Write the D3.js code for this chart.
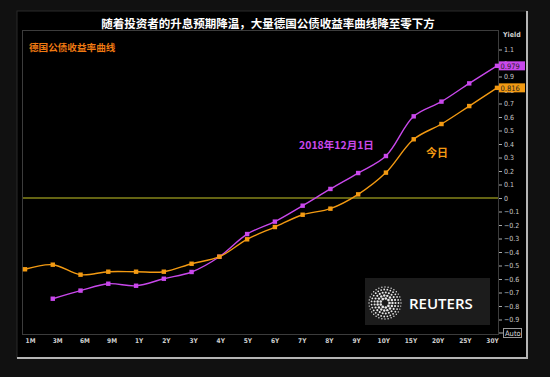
<!DOCTYPE html>
<html>
<head>
<meta charset="utf-8">
<script src="https://cdn.jsdelivr.net/npm/d3@7"></script>
<style>
    body { margin: 0; background: #111; }
</style>
</head>
<body>
<script>
// tenors on the x axis
const tenors = ["1M", "3M", "6M", "9M", "1Y", "2Y", "3Y", "4Y", "5Y", "6Y", "7Y", "8Y", "9Y", "10Y", "15Y", "20Y", "25Y", "30Y"];
// today's curve
const today = [-0.528, -0.494, -0.568, -0.546, -0.546, -0.546, -0.487, -0.435, -0.306, -0.215, -0.124, -0.079, 0.027, 0.188, 0.435, 0.548, 0.681, 0.816];
// curve on 2018-12-01 (no 1M point)
const dec1 = [null, -0.746, -0.686, -0.635, -0.650, -0.598, -0.548, -0.435, -0.267, -0.175, -0.057, 0.067, 0.185, 0.311, 0.605, 0.714, 0.849, 0.979];
const yTicks = [1.1, 1, 0.9, 0.8, 0.7, 0.6, 0.5, 0.4, 0.3, 0.2, 0.1, 0, -0.1, -0.2, -0.3, -0.4, -0.5, -0.6, -0.7, -0.8, -0.9];

const title = "随着投资者的升息预期降温，大量德国公债收益率曲线降至零下方";
const subtitle = "德国公债收益率曲线";

window.onload = function () {
    const w = 550, h = 377;
    const orange = "#f39a12", magenta = "#c948ec";
    const cjk = "'Noto Sans CJK SC', sans-serif";
    const latin = "'DejaVu Sans Condensed', 'Liberation Sans', sans-serif";

    const svg = d3.select("body").append("svg")
        .attr("width", w)
        .attr("height", h);

    svg.append("rect").attr("width", w).attr("height", h).attr("fill", "#111");

    // panel
    svg.append("rect")
        .attr("x", 17).attr("y", 11).attr("width", 510).attr("height", 347)
        .attr("fill", "#000").attr("stroke", "#2a2a2a");
    svg.append("path")
        .attr("d", "M527,11V358H17")
        .attr("fill", "none").attr("stroke", "#b5b5b5").attr("stroke-width", 2);

    // plot frame
    svg.append("rect")
        .attr("x", 22.5).attr("y", 30.5).attr("width", 476).attr("height", 304)
        .attr("fill", "none").attr("stroke", "#3c3c3c");

    svg.append("text")
        .attr("x", 268).attr("y", 28)
        .attr("text-anchor", "middle")
        .attr("font-family", cjk).attr("font-weight", "bold").attr("font-size", 11.5)
        .attr("fill", "#fff")
        .text(title);

    svg.append("text")
        .attr("x", 29).attr("y", 51)
        .attr("font-family", cjk).attr("font-weight", "bold").attr("font-size", 9.6)
        .attr("fill", "#f07a12")
        .text(subtitle);

    const x = d3.scalePoint().domain(tenors).range([25, 497]);
    const xLab = d3.scalePoint().domain(tenors).range([30, 492]);
    const y = d3.scaleLinear().domain([-0.9, 1.1]).range([319.5, 49.5]);

    // zero line
    svg.append("line")
        .attr("x1", 23).attr("x2", 498)
        .attr("y1", y(0)).attr("y2", y(0))
        .attr("stroke", "#86861a").attr("stroke-width", 1.5);

    // Reuters box
    const logo = svg.append("g");
    logo.append("rect")
        .attr("x", 365).attr("y", 278).attr("width", 125).attr("height", 47)
        .attr("fill", "#1c1c1c");
    const rings = [[4.5, 9, 1.3], [7.5, 15, 1.2], [10.5, 21, 1.05], [13.5, 27, 0.9], [16, 32, 0.7]];
    rings.forEach(function (r) {
        logo.selectAll(null)
            .data(d3.range(r[1]))
            .enter().append("circle")
            .attr("cx", (d) => 385 + r[0] * Math.cos(2 * Math.PI * d / r[1]))
            .attr("cy", (d) => 303 + r[0] * Math.sin(2 * Math.PI * d / r[1]))
            .attr("r", r[2])
            .attr("fill", "#e8e8e8");
    });
    logo.append("text")
        .attr("x", 409).attr("y", 309)
        .attr("font-family", "'Open Sans', sans-serif").attr("font-weight", 600).attr("font-size", 15)
        .attr("fill", "#fff")
        .text("REUTERS");

    // y axis on the right
    const yAxis = svg.append("g")
        .attr("transform", "translate(499,0)")
        .call(d3.axisRight(y).tickValues(yTicks).tickSize(3).tickPadding(2)
            .tickFormat((d) => d3.format("~g")(d)));
    yAxis.select(".domain").remove();
    yAxis.selectAll("line").attr("stroke", "#aaa");
    yAxis.selectAll("text")
        .attr("font-family", latin).attr("font-size", 7).attr("fill", "#c8c8c8");

    svg.append("text")
        .attr("x", 503).attr("y", 37)
        .attr("font-family", latin).attr("font-weight", "bold").attr("font-size", 7)
        .attr("fill", "#cfcfcf")
        .text("Yield");

    // Auto box
    svg.append("line")
        .attr("x1", 499).attr("x2", 503).attr("y1", y(-1)).attr("y2", y(-1))
        .attr("stroke", "#aaa");
    svg.append("rect")
        .attr("x", 503.5).attr("y", y(-1) - 4.5).attr("width", 18).attr("height", 9)
        .attr("fill", "#000").attr("stroke", "#999");
    svg.append("text")
        .attr("x", 505).attr("y", y(-1) + 3)
        .attr("font-family", latin).attr("font-size", 7.5).attr("fill", "#ddd")
        .text("Auto");

    // x axis labels
    const xAxis = svg.append("g")
        .attr("transform", "translate(0,338)")
        .call(d3.axisBottom(xLab).tickSize(0).tickPadding(0));
    xAxis.select(".domain").remove();
    xAxis.selectAll("text")
        .attr("font-family", latin).attr("font-weight", "bold").attr("font-size", 6.5)
        .attr("fill", "#cfcfcf");

    // curves
    const series = [
        {values: dec1, color: magenta},
        {values: today, color: orange}
    ];
    const line = d3.line()
        .defined((d) => d[1] != null)
        .x((d) => x(d[0]))
        .y((d) => y(d[1]))
        .curve(d3.curveCatmullRom.alpha(0.5));

    series.forEach(function (s) {
        const pts = tenors.map((t, i) => [t, s.values[i]]);
        svg.append("path")
            .datum(pts)
            .attr("d", line)
            .attr("fill", "none")
            .attr("stroke", s.color)
            .attr("stroke-width", 1.4);
        svg.selectAll(null)
            .data(pts.filter((d) => d[1] != null))
            .enter().append("rect")
            .attr("x", (d) => x(d[0]) - 2.2)
            .attr("y", (d) => y(d[1]) - 2.2)
            .attr("width", 4.4).attr("height", 4.4)
            .attr("fill", s.color);

        // last value tag
        const last = s.values[s.values.length - 1];
        svg.append("rect")
            .attr("x", 499).attr("y", y(last) - 4.5)
            .attr("width", 26).attr("height", 9)
            .attr("fill", s.color);
        svg.append("text")
            .attr("x", 500.5).attr("y", y(last) + 3)
            .attr("font-family", latin).attr("font-size", 7.5)
            .attr("fill", "#222")
            .text(d3.format(".3f")(last));
    });

    svg.append("text")
        .attr("x", 299).attr("y", 149)
        .attr("font-family", cjk).attr("font-weight", "bold").attr("font-size", 10.5)
        .attr("fill", magenta)
        .text("2018年12月1日");

    svg.append("text")
        .attr("x", 426).attr("y", 157)
        .attr("font-family", cjk).attr("font-weight", "bold").attr("font-size", 11)
        .attr("fill", orange)
        .text("今日");
}
</script>
</body>
</html>
